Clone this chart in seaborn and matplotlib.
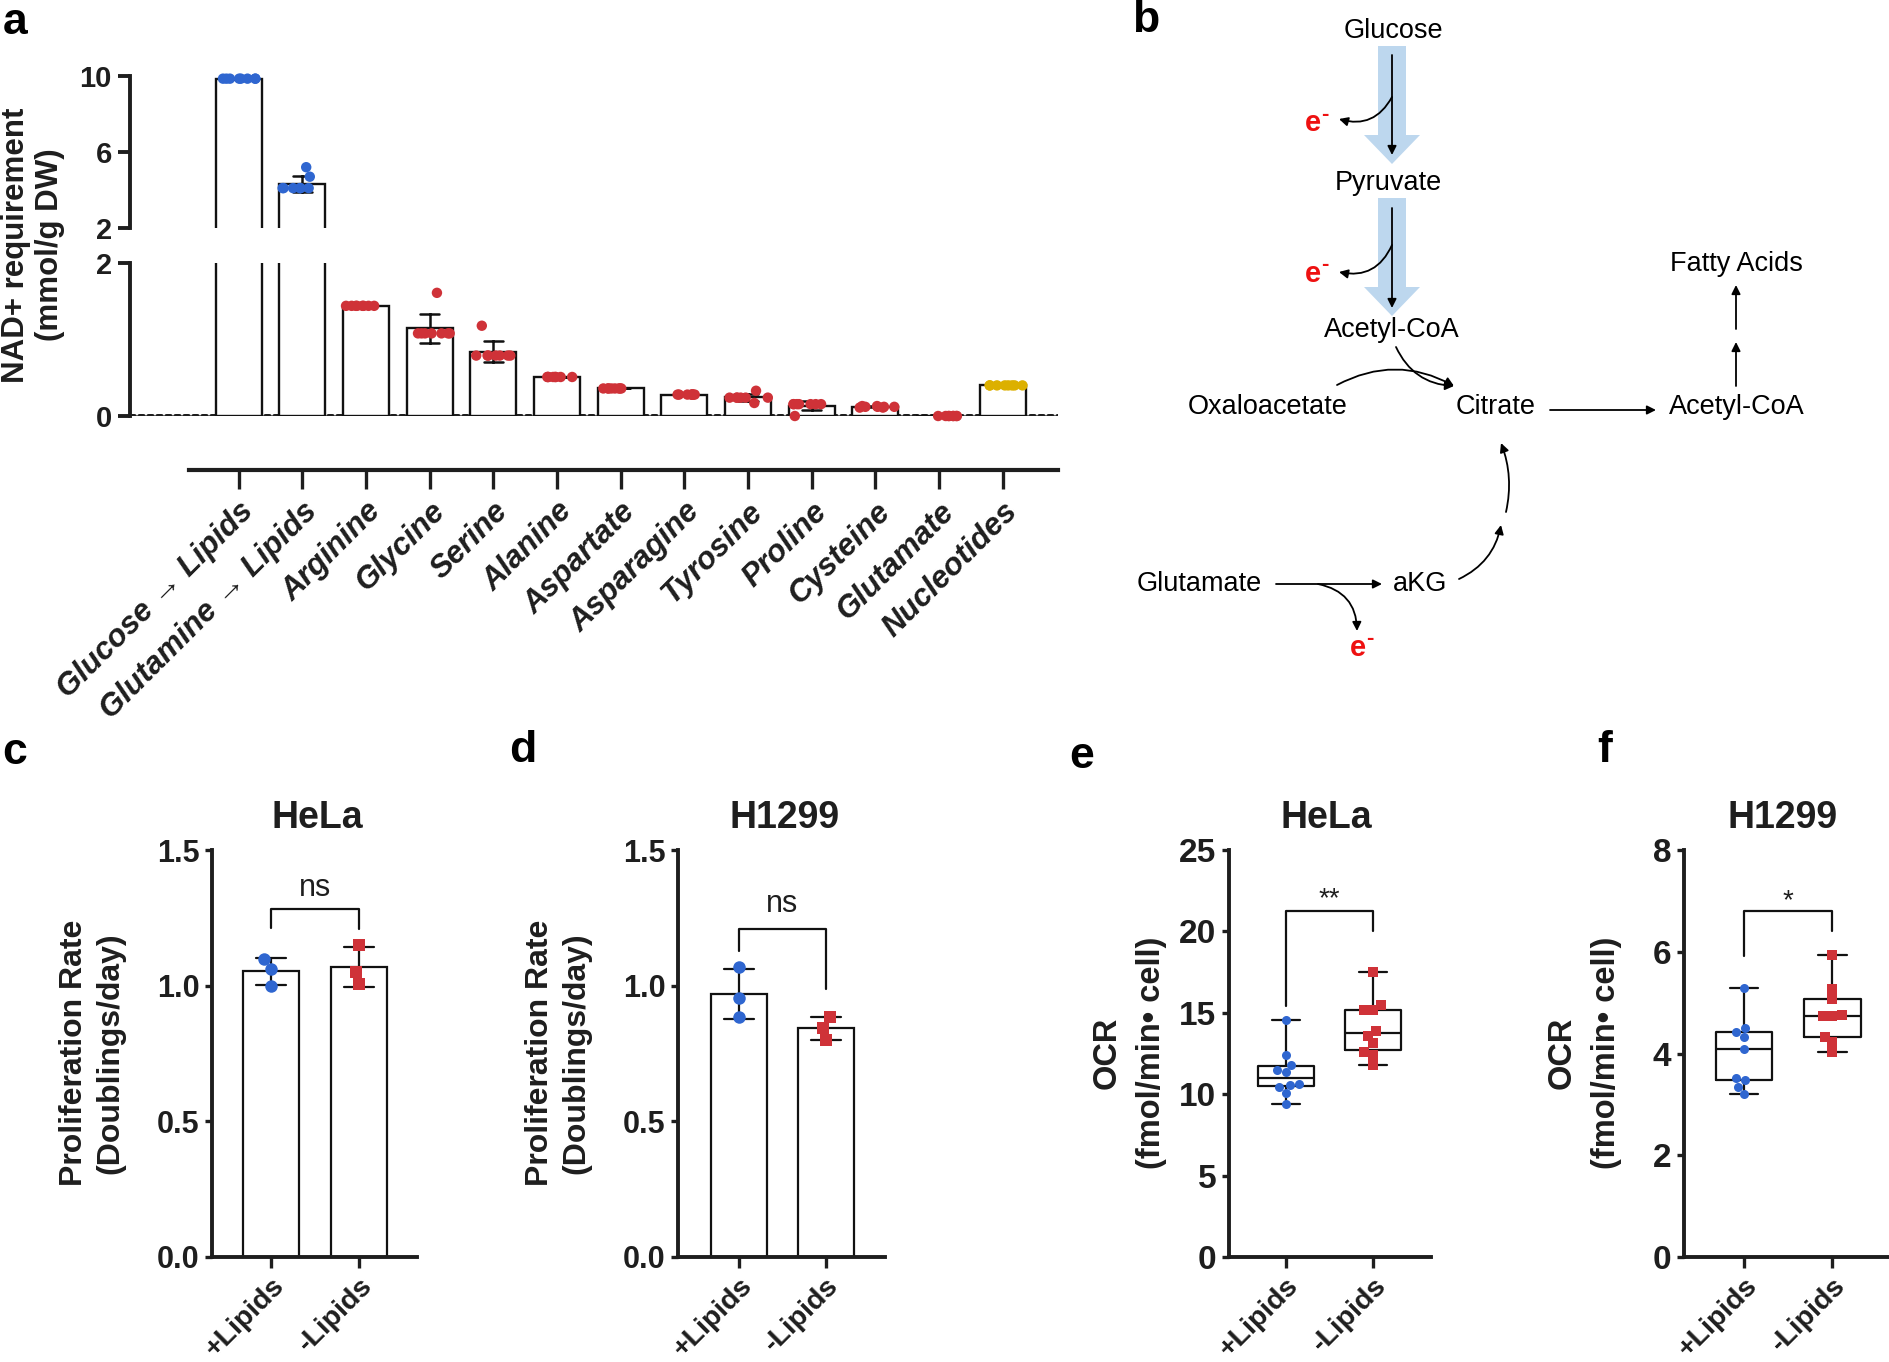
import numpy as np
import pandas as pd
import matplotlib
matplotlib.use("Agg")
import matplotlib.pyplot as plt
import seaborn as sns
from matplotlib.patches import FancyArrow

# ---------- data ----------
sources = ["Glucose → Lipids", "Glutamine → Lipids", "Arginine", "Glycine", "Serine",
           "Alanine", "Aspartate", "Asparagine", "Tyrosine", "Proline", "Cysteine",
           "Glutamate", "Nucleotides"]
glucose_lipids = [9.86, 9.86, 9.86, 9.86, 9.86, 9.86, 9.86, 9.86]
glutamine_lipids = [4.1, 4.1, 4.1, 4.1, 4.1, 4.1, 4.7, 5.2]
arginine = [1.44, 1.44, 1.44, 1.44, 1.44, 1.44, 1.44, 1.44]
glycine = [1.08, 1.08, 1.08, 1.08, 1.08, 1.08, 1.08, 1.61]
serine = [0.79, 0.79, 0.79, 0.79, 0.79, 0.79, 0.79, 1.18]
alanine = [0.51, 0.51, 0.51, 0.51, 0.51, 0.51, 0.51, 0.51]
aspartate = [0.36, 0.36, 0.36, 0.36, 0.36, 0.36, 0.36, 0.36]
asparagine = [0.28, 0.28, 0.28, 0.28, 0.28, 0.28, 0.28, 0.28]
tyrosine = [0.24, 0.24, 0.24, 0.24, 0.24, 0.24, 0.33, 0.17]
proline = [0.155, 0.155, 0.155, 0.155, 0.155, 0.155, 0.155, 0.0]
cysteine = [0.11, 0.12, 0.13, 0.12, 0.11, 0.13, 0.12, 0.12]
glutamate = [0.0, 0.0, 0.0, 0.0, 0.0, 0.0, 0.0, 0.0]
nucleotides = [0.40, 0.40, 0.40, 0.40, 0.40, 0.40, 0.40, 0.40]
a_values = [glucose_lipids, glutamine_lipids, arginine, glycine, serine, alanine,
            aspartate, asparagine, tyrosine, proline, cysteine, glutamate, nucleotides]

conditions = ["+Lipids", "-Lipids"]
hela_prolif_plus = [1.10, 1.06, 1.00]
hela_prolif_minus = [1.15, 1.05, 1.005]
h1299_prolif_plus = [1.067, 0.953, 0.885]
h1299_prolif_minus = [0.885, 0.845, 0.80]
hela_ocr_plus = [14.57, 12.38, 11.79, 11.46, 11.34, 10.55, 10.65, 10.45, 10.05, 9.38]
hela_ocr_minus = [17.49, 15.48, 15.19, 15.19, 13.87, 13.6, 13.15, 12.58, 12.38, 11.79]
h1299_ocr_plus = [5.29, 4.43, 4.51, 4.33, 4.08, 3.47, 3.52, 3.34, 3.2]
h1299_ocr_minus = [5.93, 5.26, 5.08, 4.76, 4.74, 4.74, 4.33, 4.23, 4.03]

# ---------- style ----------
BLUE = "#2f66d0"
RED = "#cf3238"
GOLD = "#dcb000"
INK = "#1e1e1e"
ARROW_BLUE = "#bdd7ee"

np.random.seed(3)  # only for the strip jitter in panel a
sns.set_style("ticks")
plt.rcParams["font.family"] = ["Liberation Sans", "DejaVu Sans"]
plt.rcParams["font.weight"] = "bold"
plt.rcParams["axes.linewidth"] = 2.4
plt.rcParams["axes.edgecolor"] = INK
plt.rcParams["xtick.color"] = INK
plt.rcParams["ytick.color"] = INK
plt.rcParams["text.color"] = INK

W, H = 1890, 1362
fig = plt.figure(figsize=(W / 100, H / 100), dpi=100)


def add_ax(left, top, right, bottom):
    return fig.add_axes([left / W, 1 - bottom / H, (right - left) / W, (bottom - top) / H])


# overlay in pixel coordinates for diagram and free text
ov = fig.add_axes([0, 0, 1, 1], zorder=5)
ov.set_xlim(0, W)
ov.set_ylim(H, 0)
ov.axis("off")
ov.patch.set_alpha(0)

# =====================================
# panel a
# =====================================
df_a = pd.DataFrame({
    "source": np.repeat(sources, [len(v) for v in a_values]),
    "value": np.concatenate(a_values),
})
source_colors = [BLUE, BLUE] + [RED] * 10 + [GOLD]
palette_a = dict(zip(sources, source_colors))
xlim_a = (-1.708, 12.87)

ax_top = add_ax(130, 76, 1058, 228)
ax_bot = add_ax(130, 263, 1058, 416)
for ax in (ax_top, ax_bot):
    sns.barplot(data=df_a, x="source", y="value", order=sources, ax=ax,
                color="white", saturation=1, edgecolor="#111111", linewidth=1.7,
                width=0.72, errorbar="sd", capsize=0.3,
                err_kws={"color": "#111111", "linewidth": 1.8})

high = df_a[df_a["value"] > 2]
low = df_a[df_a["value"] <= 2]
sns.stripplot(data=high, x="source", y="value", order=sources, hue="source",
              palette=palette_a, size=7.5, jitter=0.33, linewidth=0,
              ax=ax_top, legend=False, clip_on=False)
sns.stripplot(data=low, x="source", y="value", order=sources, hue="source",
              palette=palette_a, size=7.5, jitter=0.33, linewidth=0,
              ax=ax_bot, legend=False, clip_on=False)

for ax, lim, ticks in ((ax_top, (2, 10), [2, 6, 10]), (ax_bot, (0, 2), [0, 2])):
    for c in ax.collections:
        c.set_zorder(3)
    for ln in ax.lines:
        ln.set_zorder(2.5)
    ax.set_xlim(*xlim_a)
    ax.set_ylim(*lim)
    ax.set_yticks(ticks)
    ax.set_xticks([])
    ax.set_xlabel("")
    ax.set_ylabel("")
    for s in ("top", "right", "bottom"):
        ax.spines[s].set_visible(False)
    ax.spines["left"].set_linewidth(2.8)
    ax.tick_params(axis="y", length=9, width=2.8, labelsize=21, pad=4)
    ax.patch.set_alpha(0)

ax_bot.axhline(0, color=INK, lw=3.6, ls=(0, (0.8, 1.0)), dash_capstyle="round", zorder=0.5)

ax_x = add_ax(130, 469, 1058, 470)
ax_x.set_xlim(*xlim_a)
ax_x.set_xticks(range(len(sources)))
ax_x.set_xticklabels(sources, rotation=45, ha="right", rotation_mode="anchor",
                     fontsize=22.5, fontstyle="italic", fontweight="bold")
ax_x.set_yticks([])
for s in ("top", "right", "left"):
    ax_x.spines[s].set_visible(False)
ax_x.spines["bottom"].set_bounds(-0.78, 12.87)
ax_x.spines["bottom"].set_linewidth(3.0)
ax_x.tick_params(axis="x", length=14, width=2.4, pad=5)
ax_x.patch.set_alpha(0)

ov.text(33, 245, "NAD+ requirement\n(mmol/g DW)", rotation=90, ha="center", va="center",
        fontsize=22.5, fontweight="bold", linespacing=1.15)

# =====================================
# panel b (pathway diagram)
# =====================================
for x0, y0, y1 in ((1392, 46, 164), (1392, 198, 316)):
    ov.add_patch(FancyArrow(x0, y0, 0, y1 - y0, width=28, head_width=56, head_length=29,
                            length_includes_head=True, color=ARROW_BLUE, lw=0))


def arrow(start, end, rad=0.0):
    ov.annotate("", xy=end, xytext=start,
                arrowprops=dict(arrowstyle="-|>", color="black", lw=1.3, mutation_scale=13,
                                shrinkA=0, shrinkB=0,
                                connectionstyle=f"arc3,rad={rad}"))


arrow((1392, 55), (1392, 155))
arrow((1392, 208), (1392, 308))
arrow((1392, 97), (1339, 119), rad=-0.4)
arrow((1392, 245), (1339, 272), rad=-0.4)
arrow((1337, 385), (1454, 386), rad=-0.27)
arrow((1396, 347), (1454, 386), rad=0.3)
arrow((1550, 410), (1656, 410))
arrow((1736, 386), (1736, 342))
arrow((1736, 329), (1736, 285))
arrow((1276, 584), (1382, 584))
arrow((1318, 584), (1357, 631), rad=-0.4)
arrow((1459, 579), (1501, 525), rad=0.25)
arrow((1506, 512), (1501, 443), rad=0.15)

nodes = [("Glucose", 1393, 31), ("Pyruvate", 1388, 183), ("Acetyl-CoA", 1392, 330),
         ("Oxaloacetate", 1268, 407), ("Citrate", 1496, 407), ("Acetyl-CoA", 1737, 407),
         ("Fatty Acids", 1736, 264), ("Glutamate", 1199, 584), ("aKG", 1420, 584)]
for label, x, y in nodes:
    ov.text(x, y, label, ha="center", va="center", fontsize=19.5, fontweight="normal", color="black")

for x, y in ((1313, 123), (1313, 274), (1358, 648)):
    ov.text(x, y, "e", ha="center", va="center", fontsize=21, fontweight="bold", color="#ee1111")
    ov.text(x + 8, y - 9, "-", ha="left", va="center", fontsize=16, fontweight="bold", color="#ee1111")

# =====================================
# panels c-f
# =====================================


def finish(ax, xlim, ylim, yticks, fmt, ysize):
    for c in ax.collections:
        c.set_zorder(3)
    ax.set_xlim(*xlim)
    ax.set_ylim(*ylim)
    ax.set_yticks(yticks)
    ax.set_yticklabels([fmt.format(v) for v in yticks])
    ax.set_xticks([0, 1])
    ax.set_xticklabels(conditions, rotation=45, ha="right", rotation_mode="anchor",
                       fontsize=20.5, fontweight="bold")
    ax.set_xlabel("")
    ax.set_ylabel("")
    sns.despine(ax=ax)
    ax.spines["left"].set_linewidth(2.8)
    ax.spines["bottom"].set_linewidth(2.8)
    ax.tick_params(axis="y", length=5, width=2.4, labelsize=ysize, pad=4)
    ax.tick_params(axis="x", length=8, width=2.4, pad=3)
    ax.patch.set_alpha(0)


def points(ax, df, col, size):
    for cond, marker, color in zip(conditions, ["o", "s"], [BLUE, RED]):
        sns.swarmplot(data=df[df["condition"] == cond], x="condition", y=col, order=conditions,
                      ax=ax, color=color, marker=marker, size=size, clip_on=False)


def bracket(ax, y_left, y_top, y_right, label, label_y, size):
    ax.plot([0, 0, 1, 1], [y_left, y_top, y_top, y_right], color="#111111", lw=1.6, clip_on=False)
    ax.text(0.5, label_y, label, ha="center", va="center", fontsize=size, fontweight="normal")


prolif_sets = [
    ("c", "HeLa", (212, 850, 417, 1257), (-0.67, 1.66), hela_prolif_plus, hela_prolif_minus,
     (1.212, 1.282, 1.21, "ns", 1.36)),
    ("d", "H1299", (678, 850, 885, 1257), (-0.70, 1.68), h1299_prolif_plus, h1299_prolif_minus,
     (1.126, 1.208, 0.988, "ns", 1.30)),
]
for tag, title, box, xlim, plus, minus, br in prolif_sets:
    ax = add_ax(*box)
    df = pd.DataFrame({"condition": [conditions[0]] * len(plus) + [conditions[1]] * len(minus),
                       "rate": plus + minus})
    sns.barplot(data=df, x="condition", y="rate", order=conditions, ax=ax,
                color="white", saturation=1, edgecolor="#111111", linewidth=1.6, width=0.64,
                errorbar="sd", capsize=0.35, err_kws={"color": "#111111", "linewidth": 1.6})
    points(ax, df, "rate", 9)
    finish(ax, xlim, (0, 1.5), [0, 0.5, 1.0, 1.5], "{:.1f}", 22)
    bracket(ax, br[0], br[1], br[2], br[3], br[4], 22)
    cx = (box[0] + box[2]) / 2
    ov.text(cx + 3, 818, title, ha="center", va="center", fontsize=27, fontweight="bold")
    ov.text(box[0] - 120, 1053, "Proliferation Rate\n(Doublings/day)", rotation=90,
            ha="center", va="center", fontsize=23, fontweight="bold", linespacing=1.3)

ocr_sets = [
    ("e", "HeLa", (1229, 850, 1431, 1257), (-0.65, 1.66), hela_ocr_plus, hela_ocr_minus,
     (0, 25), [0, 5, 10, 15, 20, 25], (15.43, 21.27, 20.05, "**", 22.0)),
    ("f", "H1299", (1684, 850, 1889, 1257), (-0.68, 1.64), h1299_ocr_plus, h1299_ocr_minus,
     (0, 8), [0, 2, 4, 6, 8], (5.91, 6.8, 6.4, "*", 7.0)),
]
for tag, title, box, xlim, plus, minus, ylim, yticks, br in ocr_sets:
    ax = add_ax(*box)
    df = pd.DataFrame({"condition": [conditions[0]] * len(plus) + [conditions[1]] * len(minus),
                       "ocr": plus + minus})
    sns.boxplot(data=df, x="condition", y="ocr", order=conditions, ax=ax, whis=(0, 100),
                width=0.64, fill=False, color="#111111", linewidth=1.6, showfliers=False)
    points(ax, df, "ocr", 6.5)
    finish(ax, xlim, ylim, yticks, "{:d}", 24)
    bracket(ax, br[0], br[1], br[2], br[3], br[4], 20)
    ov.text((box[0] + box[2]) / 2 - 4, 818, title, ha="center", va="center", fontsize=27,
            fontweight="bold")
    ov.text(box[0] - 100, 1053, "OCR\n(fmol/min• cell)", rotation=90,
            ha="center", va="center", fontsize=23.5, fontweight="bold", linespacing=1.55)

# panel letters
for letter, x, y in (("a", 15, 22), ("b", 1146, 20), ("c", 15, 752), ("d", 523, 750),
                     ("e", 1082, 756), ("f", 1605, 750)):
    ov.text(x, y, letter, ha="center", va="center", fontsize=32, fontweight="bold", color="black")

fig.savefig("out.png", dpi=100)
